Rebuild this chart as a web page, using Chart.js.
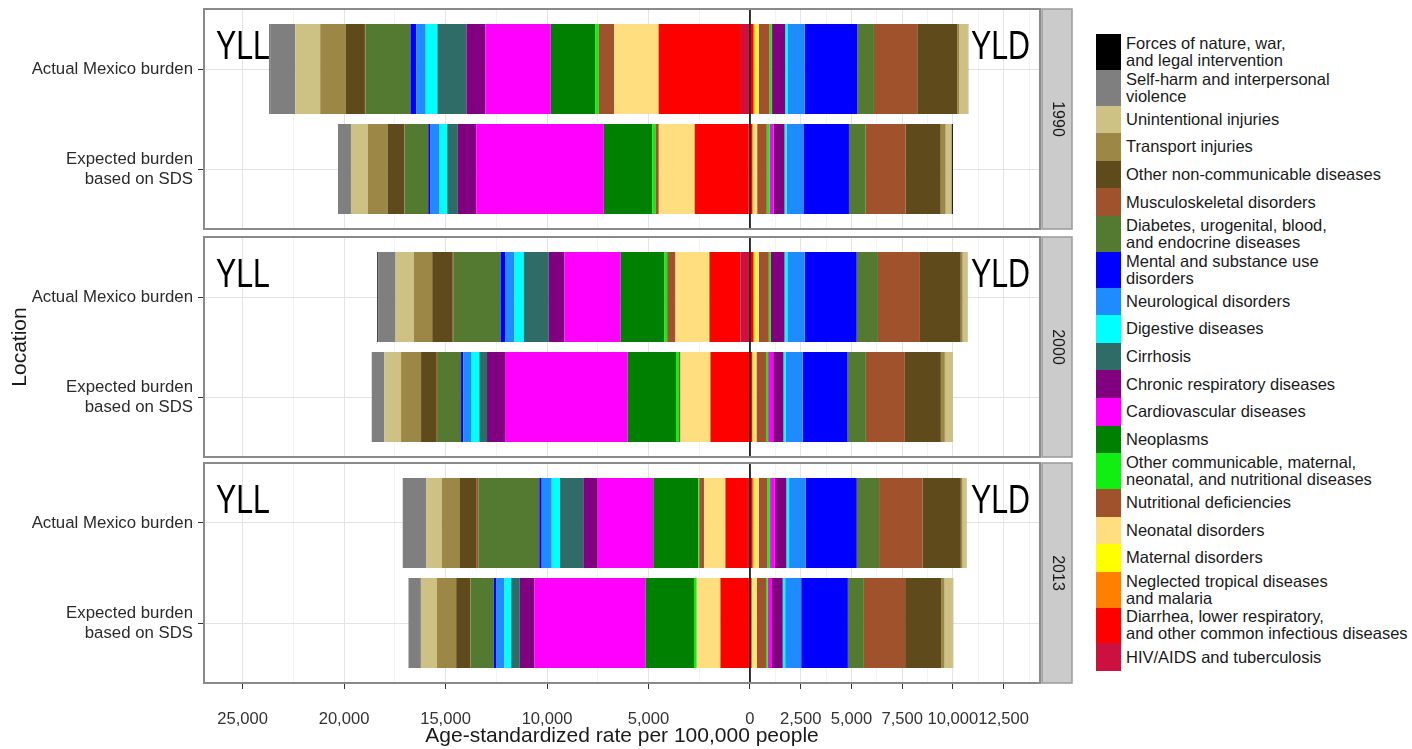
<!DOCTYPE html>
<html><head><meta charset="utf-8">
<script src="https://cdn.jsdelivr.net/npm/chart.js@4.4.1/dist/chart.umd.min.js"></script>
<style>
html,body{margin:0;padding:0;background:#fff;width:1412px;height:749px;overflow:hidden;font-family:"Liberation Sans",Arial,sans-serif;}
canvas.cv{position:absolute;left:0;}
#legend{position:absolute;left:1096px;top:34px;}
.row{display:flex;align-items:center;}
.key{width:25px;align-self:stretch;flex:none;}
.lab{margin-left:5px;font-size:16.5px;line-height:17px;color:#1a1a1a;white-space:pre;}
</style></head><body>
<canvas id="c0" class="cv" style="top:0px" width="1080" height="232"></canvas>
<canvas id="c1" class="cv" style="top:232px" width="1080" height="228"></canvas>
<canvas id="c2" class="cv" style="top:460px" width="1080" height="289"></canvas>
<div id="legend"></div>
<script>
// ---- data (legend order, top to bottom) ----
const causes = [
  "Forces of nature, war,\nand legal intervention",
  "Self-harm and interpersonal\nviolence",
  "Unintentional injuries",
  "Transport injuries",
  "Other non-communicable diseases",
  "Musculoskeletal disorders",
  "Diabetes, urogenital, blood,\nand endocrine diseases",
  "Mental and substance use\ndisorders",
  "Neurological disorders",
  "Digestive diseases",
  "Cirrhosis",
  "Chronic respiratory diseases",
  "Cardiovascular diseases",
  "Neoplasms",
  "Other communicable, maternal,\nneonatal, and nutritional diseases",
  "Nutritional deficiencies",
  "Neonatal disorders",
  "Maternal disorders",
  "Neglected tropical diseases\nand malaria",
  "Diarrhea, lower respiratory,\nand other common infectious diseases",
  "HIV/AIDS and tuberculosis"
];
const colors = ["#000000","#7F7F7F","#CDC283","#9C8746","#5E4A1A","#A0522D","#547A32","#0000FF","#1E8CFF","#00FFFF","#2F6B67","#800080","#FF00FF","#008000","#11EE11","#A0522D","#FFDE80","#FFFF00","#FF8000","#FF0000","#CC1040"];
const years = ["1990","2000","2013"];
const rowLabels = ["Actual Mexico burden", "Expected burden\nbased on SDS"];
const tickValues = [-25000,-20000,-15000,-10000,-5000,0,2500,5000,7500,10000,12500];

const yll1990Actual   = [35,1232,1232,1266,936,25,2217,296,458,576,1429,936,3217,2202,163,754,2167,20,20,4049,443];
const yll1990Expected = [0,640,837,966,823,15,1167,113,443,379,522,906,6286,2384,163,163,1724,39,10,2660,59];
const yld1990Actual   = [5,10,429,99,1970,2133,823,2596,818,133,10,640,15,15,99,527,89,123,49,123,49];
const yld1990Expected = [60,15,281,246,1724,1970,823,2246,823,99,10,542,187,10,133,473,182,34,25,74,39];

const yll2000Actual   = [49,852,901,906,1010,25,2330,246,443,458,1232,773,2759,2167,133,409,1626,34,15,1527,468];
const yll2000Expected = [0,621,823,985,739,49,1182,113,379,409,379,887,6044,2379,148,74,1453,15,10,1911,34];
const yld2000Actual   = [5,10,232,99,2005,2069,1049,2562,852,133,10,665,15,10,84,493,123,99,49,123,39];
const yld2000Expected = [5,10,379,197,1773,1921,901,2217,823,113,10,502,246,10,99,468,148,49,25,74,25];

const yll2013Actual   = [0,1148,773,901,823,79,3005,118,493,409,1148,709,2739,2217,49,232,1034,15,10,1108,99];
const yll2013Expected = [0,611,788,951,690,15,1148,133,394,330,424,724,5468,2389,123,15,1143,15,10,1404,49];
const yld2013Actual   = [5,10,197,84,1887,2138,1099,2512,823,128,10,562,236,15,128,414,187,74,49,99,25];
const yld2013Expected = [5,10,414,163,1773,2034,788,2300,788,113,10,527,202,10,84,443,222,25,25,49,25];

const panels = [
  {yllA: yll1990Actual, yllE: yll1990Expected, yldA: yld1990Actual, yldE: yld1990Expected},
  {yllA: yll2000Actual, yllE: yll2000Expected, yldA: yld2000Actual, yldE: yld2000Expected},
  {yllA: yll2013Actual, yllE: yll2013Expected, yldA: yld2013Actual, yldE: yld2013Expected}
];

// ---- helpers ----
const FONT = '"Liberation Sans", Arial, Helvetica, sans-serif';
Chart.defaults.font.family = FONT;
function fmt(v){
  const s = String(Math.abs(v));
  return s.replace(/\B(?=(\d{3})+(?!\d))/g, ",");
}
const minorValues = [];
for (let i = 0; i < tickValues.length - 1; i++) minorValues.push((tickValues[i] + tickValues[i+1]) / 2);
minorValues.push(tickValues[tickValues.length-1] + (tickValues[tickValues.length-1]-tickValues[tickValues.length-2])/2);
const allX = tickValues.concat(minorValues).sort((a,b)=>a-b);
const isMajor = v => tickValues.indexOf(v) >= 0;

const panelPlugin = {
  id: 'panelDeco',
  afterDatasetsDraw(chart) {
    const {ctx, chartArea: a, scales} = chart;
    const x0 = scales.x.getPixelForValue(0);
    ctx.save();
    ctx.strokeStyle = '#000';
    ctx.lineWidth = 1.6;
    ctx.beginPath(); ctx.moveTo(x0, a.top); ctx.lineTo(x0, a.bottom); ctx.stroke();
    // YLL / YLD labels
    ctx.fillStyle = '#000';
    ctx.font = '41px ' + FONT;
    ctx.textBaseline = 'alphabetic';
    ctx.save(); ctx.translate(a.left + 12, a.top + 50); ctx.scale(0.74, 1);
    ctx.textAlign = 'left'; ctx.fillText('YLL', 0, 0); ctx.restore();
    ctx.save(); ctx.translate(a.right - 10, a.top + 50); ctx.scale(0.74, 1);
    ctx.textAlign = 'right'; ctx.fillText('YLD', 0, 0); ctx.restore();
    ctx.restore();
  },
  afterDraw(chart, args, opts) {
    const {ctx, chartArea: a} = chart;
    ctx.save();
    // panel border
    ctx.strokeStyle = '#8a8a8a';
    ctx.lineWidth = 2;
    ctx.strokeRect(a.left, a.top, a.right - a.left, a.bottom - a.top);
    // strip
    const sx = a.right + 2, sw = 30;
    ctx.fillStyle = '#CBCBCB';
    ctx.fillRect(sx, a.top, sw, a.bottom - a.top);
    ctx.strokeStyle = '#9a9a9a';
    ctx.lineWidth = 1.5;
    ctx.strokeRect(sx, a.top, sw, a.bottom - a.top);
    ctx.translate(sx + sw/2, (a.top + a.bottom)/2);
    ctx.rotate(Math.PI/2);
    ctx.fillStyle = '#1a1a1a';
    ctx.font = '16px ' + FONT;
    ctx.textAlign = 'center'; ctx.textBaseline = 'middle';
    ctx.fillText(opts.year, 0, 0);
    ctx.restore();
  }
};

function makeChart(idx, pad, showX, showYTitle) {
  const p = panels[idx];
  const datasets = [];
  for (let i = causes.length - 1; i >= 0; i--) {
    datasets.push({label: causes[i] + ' YLL', backgroundColor: colors[i], borderWidth: 0,
      data: [{x: -p.yllA[i], y: 0}, {x: -p.yllE[i], y: 1}]});
    datasets.push({label: causes[i] + ' YLD', backgroundColor: colors[i], borderWidth: 0,
      data: [{x: p.yldA[i], y: 0}, {x: p.yldE[i], y: 1}]});
  }
  new Chart(document.getElementById('c' + idx), {
    type: 'bar',
    data: {datasets},
    plugins: [panelPlugin],
    options: {
      indexAxis: 'y',
      responsive: false,
      animation: false,
      devicePixelRatio: 1,
      events: [],
      layout: {padding: pad},
      categoryPercentage: 1,
      barPercentage: 0.9,
      plugins: {legend: {display: false}, tooltip: {enabled: false}, panelDeco: {year: years[idx]}},
      scales: {
        x: {
          type: 'linear', min: -26900, max: 14290, stacked: true,
          afterBuildTicks: s => { s.ticks = allX.map(v => ({value: v})); },
          afterFit: s => { s.height = showX ? 66 : 0; s.paddingLeft = 0; s.paddingRight = 0; },
          border: {display: false},
          grid: {
            color: c => isMajor(c.tick.value) ? '#E4E4E4' : '#F3F3F3',
            lineWidth: 1,
            drawTicks: showX,
            tickLength: 6,
            tickColor: c => isMajor(c.tick.value) ? '#333' : 'rgba(0,0,0,0)'
          },
          ticks: {
            display: showX, autoSkip: false, maxRotation: 0, minRotation: 0,
            padding: 20, color: '#333', font: {size: 16.6},
            callback: v => isMajor(v) ? fmt(v) : ''
          },
          title: {display: showX, text: 'Age-standardized rate per 100,000 people',
            color: '#1a1a1a', font: {size: 21}, padding: {top: 0, bottom: 0}}
        },
        y: {
          type: 'linear', reverse: true, min: -0.6, max: 1.6, stacked: true,
          offset: false,
          afterBuildTicks: s => { s.ticks = rowLabels.map((_, i) => ({value: i})); },
          afterFit: s => { s.width = 204; s.paddingTop = 0; s.paddingBottom = 0; },
          border: {display: false},
          grid: {offset: false, color: '#E4E4E4', lineWidth: 1, drawTicks: true, tickLength: 6, tickColor: '#333'},
          ticks: {autoSkip: false, padding: 5, color: '#2b2b2b', font: {size: 16.8},
            callback: v => (rowLabels[v] !== undefined ? rowLabels[v].split('\n') : '')},
          title: {display: showYTitle, text: 'Location', color: '#1a1a1a', font: {size: 21},
            padding: {top: 8, bottom: 0}}
        }
      }
    }
  });
}

makeChart(0, {top: 9, right: 40, bottom: 3, left: 0}, false, false);
makeChart(1, {top: 5, right: 40, bottom: 3, left: 0}, false, true);
makeChart(2, {top: 3, right: 40, bottom: 0, left: 0}, true, false);

// ---- legend ----
const leg = document.getElementById('legend');
causes.forEach((c, i) => {
  const two = c.indexOf('\n') >= 0;
  const row = document.createElement('div');
  row.className = 'row';
  row.style.height = (two ? 35.8 : 27.6) + 'px';
  const k = document.createElement('div');
  k.className = 'key'; k.style.background = colors[i];
  const t = document.createElement('div');
  t.className = 'lab'; t.textContent = c;
  row.appendChild(k); row.appendChild(t);
  leg.appendChild(row);
});
</script>
</body></html>
